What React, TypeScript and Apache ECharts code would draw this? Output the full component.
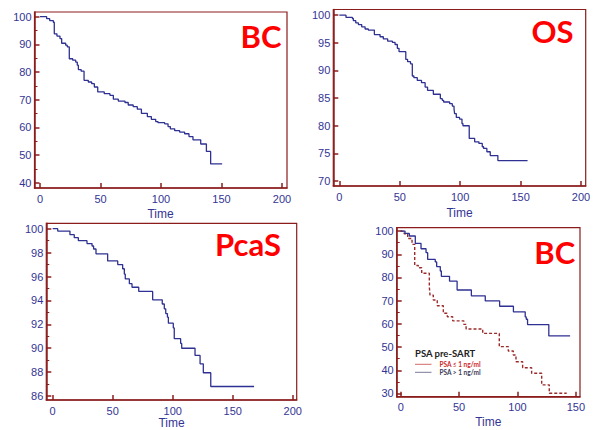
import React, { useEffect, useRef } from "react";
import * as echarts from "echarts";

// ---- Data (Kaplan-Meier step points: [time, survival %]) ----
const bcAll: [number, number][] = [
  [0, 100], [5.5, 99.3], [8, 98.6], [11, 98.0], [11.8, 93.8], [14, 93.0], [16.5, 92.1],
  [17.9, 90.4], [21.2, 89.7], [22.5, 89.1], [24.2, 84.8], [27, 84.3], [29.5, 83.6],
  [30.8, 82.5], [31.7, 80.9], [34, 80.3], [36.4, 77.0], [39.9, 76.4], [42.7, 75.8],
  [44.9, 74.6], [47.7, 72.8], [53.1, 72.2], [57.8, 71.6], [60.6, 70.2], [64.7, 69.5],
  [70.2, 69.0], [72.9, 68.1], [77, 67.5], [80.4, 66.6], [83.8, 65.1], [88.7, 63.9],
  [92, 62.9], [95.6, 62.1], [97.5, 61.7], [103, 61.3], [105.8, 60.3], [107.7, 59.5],
  [111.3, 58.8], [115.4, 58.3], [119.5, 57.7], [123.1, 56.7], [126.4, 55.5],
  [132.8, 54.0], [137.5, 51.3], [141, 46.8], [150.5, 46.8],
];

const osAll: [number, number][] = [
  [0, 100], [5.5, 99.6], [10.8, 99.4], [11.6, 99.0], [13.6, 98.6], [15.8, 98.3],
  [18.5, 97.9], [21.3, 97.5], [24, 97.3], [29, 96.5], [33.7, 96.1], [36.4, 95.7],
  [40, 95.3], [43.9, 95.1], [46.1, 94.7], [48, 94.0], [49.4, 93.4], [55, 92.0],
  [56.5, 91.6], [58.9, 91.2], [60.4, 89.0], [61.7, 88.7], [64.5, 88.2], [68, 87.8],
  [71, 87.0], [73, 86.4], [77.8, 85.7], [83.6, 84.9], [85.2, 84.6], [86.3, 84.3],
  [91.3, 84.0], [93.5, 83.55], [94.9, 83.1], [95.4, 82.2], [96.8, 81.5], [99.5, 81.2],
  [101.5, 80.4], [102.3, 80.0], [107.5, 77.7], [112, 77.1], [115.5, 76.8],
  [118.3, 76.2], [119.4, 75.9], [122.1, 75.3], [124.9, 74.6], [131.2, 73.7], [155.8, 73.7],
];

const pcasAll: [number, number][] = [
  [0, 100], [4.2, 99.8], [14.4, 99.5], [18, 99.25], [21.4, 99.0], [28.6, 98.75],
  [32.8, 98.55], [34.1, 98.3], [36.1, 97.9], [45.8, 97.3], [54.2, 97.0], [58.3, 96.65],
  [59.7, 96.2], [60.5, 95.8], [63.9, 95.4], [66.1, 95.1], [71.7, 94.75], [83.3, 94.05],
  [91.3, 93.7], [93, 93.3], [94.2, 92.9], [95.6, 92.6], [96.4, 92.1], [100.5, 91.7],
  [101.3, 90.8], [106.6, 90.4], [107.5, 90.0], [118.6, 89.4], [122.8, 88.7],
  [125.5, 87.95], [131.7, 86.8], [167.8, 86.8],
];

const bcPsaLow: [number, number][] = [
  [0, 100], [3, 98.8], [6, 96.8], [9.7, 94.3], [12, 85.2], [15.1, 84.2], [18, 81.8],
  [24.5, 76.0], [25.1, 72.4], [27.9, 70.3], [31.3, 67.8], [36.5, 64.6], [39.9, 63.1],
  [44.5, 61.3], [54, 59.8], [56, 57.8], [70.2, 55.9], [84.4, 50.2], [92.1, 48.3],
  [96.4, 46.6], [98.7, 43.7], [104.4, 41.1], [112.1, 38.7], [120.7, 33.7],
  [127.2, 30.1], [142.1, 30.1],
];

const bcPsaHigh: [number, number][] = [
  [0, 100], [3.7, 99.0], [7.4, 97.9], [12.5, 94.7], [17.4, 92.4], [21.7, 90.7],
  [23.1, 87.8], [29.6, 86.7], [30.8, 84.7], [33.9, 82.8], [34.8, 80.5], [41.8, 78.4],
  [48.3, 74.6], [60.5, 72.1], [72.4, 69.9], [84.7, 67.6], [96.5, 65.2], [106.6, 63.0],
  [107.5, 62.0], [108.6, 59.7], [126.8, 54.8], [145, 54.8],
];

// ---- Tick labels ----
const timeTicks = [0, 50, 100, 150, 200];
const timeTicksShort = [0, 50, 100, 150];
const bcTicks = [40, 50, 60, 70, 80, 90, 100];
const bcMinor = [45, 55, 65, 75, 85, 95];
const osTicks = [70, 75, 80, 85, 90, 95, 100];
const pcasTicks = [86, 88, 90, 92, 94, 96, 98, 100];
const pcasMinor = [87, 89, 91, 93, 95, 97, 99];
const bc2Ticks = [30, 40, 50, 60, 70, 80, 90, 100];
const bc2Minor = [35, 45, 55, 65, 75, 85, 95];

const panelTitles = ["BC", "OS", "PcaS", "BC"];
const xAxisTitle = "Time";
const legendTitle = "PSA pre-SART";
const legendNames = ["PSA ≤ 1 ng/ml", "PSA > 1 ng/ml"];

const FRAME = "#8b1c1c";
const LABEL = "#343494";
const CURVE = "#2e3192";
const DASH = "#9b2a2a";
const AXIS_FONT = "Liberation Sans";

function xAxisFor(gi: number, min: number, max: number, ticks: number[]) {
  return {
    type: "value",
    gridIndex: gi,
    position: "bottom",
    min,
    max,
    axisLine: { show: true, onZero: false, lineStyle: { color: FRAME, width: 1.5 } },
    axisTick: { show: true, inside: true, length: 5, customValues: ticks, lineStyle: { color: FRAME, width: 1.5 } },
    axisLabel: { customValues: ticks, color: LABEL, fontSize: 11, fontFamily: AXIS_FONT, margin: 5 },
    splitLine: { show: false },
  };
}

function yAxisFor(gi: number, min: number, max: number, ticks: number[]) {
  return {
    type: "value",
    gridIndex: gi,
    position: "left",
    min,
    max,
    axisLine: { show: true, onZero: false, lineStyle: { color: FRAME, width: 1.5 } },
    axisTick: { show: true, inside: true, length: 5, customValues: ticks, lineStyle: { color: FRAME, width: 1.5 } },
    axisLabel: { customValues: ticks, color: LABEL, fontSize: 11, fontFamily: AXIS_FONT, margin: 3 },
    splitLine: { show: false },
  };
}

function yMinorFor(gi: number, min: number, max: number, ticks: number[]) {
  return {
    type: "value",
    gridIndex: gi,
    position: "left",
    min,
    max,
    axisLine: { show: false, onZero: false },
    axisTick: { show: true, inside: true, length: 3, customValues: ticks, lineStyle: { color: FRAME, width: 1 } },
    axisLabel: { show: false },
    splitLine: { show: false },
  };
}

function stepSeries(data: [number, number][], axisIdx: number, yIdx: number, color: string, dashed = false, name?: string) {
  return {
    type: "line",
    name,
    step: "end",
    xAxisIndex: axisIdx,
    yAxisIndex: yIdx,
    data,
    symbol: "none",
    showSymbol: false,
    lineStyle: { color, width: dashed ? 1.4 : 1.3, type: dashed ? [3, 2] : "solid" },
    silent: true,
  };
}

export default function App() {
  const ref = useRef<HTMLDivElement>(null);
  useEffect(() => {
    if (!ref.current) return;
    const chart = echarts.init(ref.current, null, { renderer: "svg" });
    const gridBase = { show: true, borderColor: FRAME, borderWidth: 1.2, backgroundColor: "transparent" };
    const titleStyle = (text: string, x: number, y: number) => ({
      type: "text",
      x,
      y,
      style: {
        text,
        fill: "#ff0000",
        fontSize: 31,
        fontWeight: "bold",
        fontFamily: "Lato",
        align: "center",
        verticalAlign: "middle",
      },
    });
    const timeText = (x: number, y: number) => ({
      type: "text",
      x,
      y,
      style: {
        text: xAxisTitle,
        fill: LABEL,
        fontSize: 12,
        fontFamily: AXIS_FONT,
        align: "center",
        verticalAlign: "middle",
      },
    });
    chart.setOption({
      animation: false,
      backgroundColor: "#ffffff",
      grid: [
        { ...gridBase, left: 34.5, top: 12, width: 252.5, height: 176 },
        { ...gridBase, left: 333.3, top: 9.5, width: 252.4, height: 176.5 },
        { ...gridBase, left: 46.3, top: 223.3, width: 250.4, height: 176.7 },
        { ...gridBase, left: 396.7, top: 227.7, width: 183.3, height: 169 },
      ],
      xAxis: [
        xAxisFor(0, -4.55, 204.1, timeTicks),
        xAxisFor(1, -5.0, 203.9, timeTicks),
        xAxisFor(2, -5.3, 203.3, timeTicks),
        xAxisFor(3, -3.42, 153.5, timeTicksShort),
      ],
      yAxis: [
        yAxisFor(0, 38.1, 101.7, bcTicks),
        yAxisFor(1, 69.1, 101.03, osTicks),
        yAxisFor(2, 85.67, 100.45, pcasTicks),
        yAxisFor(3, 28.6, 101.47, bc2Ticks),
        yMinorFor(0, 38.1, 101.7, bcMinor),
        yMinorFor(2, 85.67, 100.45, pcasMinor),
        yMinorFor(3, 28.6, 101.47, bc2Minor),
      ],
      series: [
        stepSeries(bcAll, 0, 0, CURVE),
        stepSeries(osAll, 1, 1, CURVE),
        stepSeries(pcasAll, 2, 2, CURVE),
        stepSeries(bcPsaLow, 3, 3, DASH, true, legendNames[0]),
        stepSeries(bcPsaHigh, 3, 3, CURVE, false, legendNames[1]),
      ],
      graphic: [
        titleStyle(panelTitles[0], 261, 35.5),
        titleStyle(panelTitles[1], 552.5, 31),
        titleStyle(panelTitles[2], 248, 244),
        titleStyle(panelTitles[3], 554.7, 251.8),
        timeText(160.5, 214),
        timeText(459.5, 212.5),
        timeText(171.5, 422.5),
        timeText(488.3, 422),
        {
          type: "text",
          x: 415,
          y: 353,
          style: { text: legendTitle, fill: "#222222", fontSize: 9.5, fontWeight: "bold", fontFamily: "Lato", align: "left", verticalAlign: "middle" },
        },
        { type: "line", shape: { x1: 415, y1: 364.3, x2: 431.5, y2: 364.3 }, style: { stroke: "#d46a6a", lineWidth: 1 } },
        {
          type: "text",
          x: 439.5,
          y: 364.3,
          style: { text: legendNames[0], fill: "#cc2a2a", fontSize: 6.5, fontWeight: "bold", fontFamily: "Lato", align: "left", verticalAlign: "middle" },
        },
        { type: "line", shape: { x1: 415, y1: 372.3, x2: 431.5, y2: 372.3 }, style: { stroke: "#7a7a9c", lineWidth: 1 } },
        {
          type: "text",
          x: 439.5,
          y: 372.3,
          style: { text: legendNames[1], fill: "#3a3a55", fontSize: 6.5, fontWeight: "bold", fontFamily: "Lato", align: "left", verticalAlign: "middle" },
        },
      ],
    });
    return () => chart.dispose();
  }, []);
  return (
    <div
      ref={ref}
      style={{ position: "fixed", left: 0, top: 0, width: 594, height: 430, background: "#ffffff" }}
    />
  );
}
